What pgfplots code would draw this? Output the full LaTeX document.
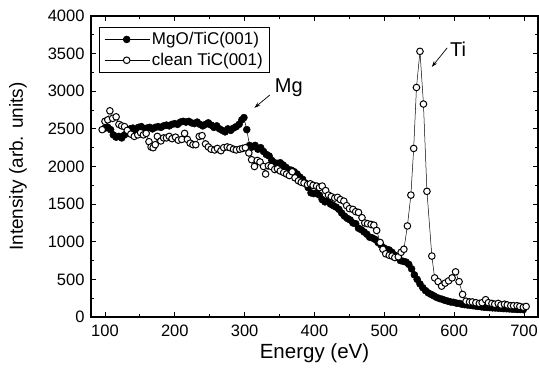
\documentclass[border=0pt]{standalone}
\usepackage{pgfplots}
\pgfplotsset{compat=1.18}
\usepackage{fontspec}
\setmainfont{Liberation Sans}
\usetikzlibrary{arrows.meta,calc}
\begin{document}
\begin{tikzpicture}
\begin{axis}[
  scale only axis, width=447pt, height=301pt,
  xmin=80, xmax=720, ymin=0, ymax=4000,
  xtick={100,200,...,700}, minor x tick num=1,
  ytick={0,500,...,4000}, minor y tick num=1,
  tick align=inside, major tick length=5pt, minor tick length=3pt,
  axis line style={line width=1.1pt}, every tick/.style={line width=0.9pt, black},
  tick label style={font=\fontsize{16.5}{16}\selectfont},
  /pgf/number format/assume math mode=true,
  /pgf/number format/1000 sep={},
  xticklabel style={yshift=-4pt}, yticklabel style={xshift=-3pt},
  xlabel={Energy (eV)}, ylabel={Intensity (arb. units)},
  xlabel style={font=\fontsize{20.5}{20}\selectfont, at={(axis description cs:0.5,0)}, anchor=center, yshift=-36pt},
  ylabel style={font=\fontsize{19}{19}\selectfont, at={(axis description cs:0,0.5)}, anchor=center, yshift=73pt},
  legend style={font=\fontsize{17}{20}\selectfont, at={(0.018,0.963)}, anchor=north west, draw=black, line width=0.8pt, inner xsep=5pt, inner ysep=3pt, row sep=3pt},
  legend cell align=left,
  legend image code/.code={\draw[mark repeat=2,mark phase=2,#1] plot coordinates {(0pt,0pt) (22pt,0pt) (45pt,0pt)};},
]
\addplot[black, line width=0.5pt, mark=*, mark size=3.5pt, mark options={fill=black, line width=0.5pt}] coordinates {
(100,2510)(104,2520)(108,2490)(112,2420)(116,2390)(120,2400)(124,2380)(128,2420)(132,2460)(136,2500)
(140,2510)(144,2480)(148,2520)(152,2530)(156,2500)(160,2510)(164,2520)(168,2500)(172,2520)(176,2530)
(180,2520)(184,2540)(188,2550)(192,2540)(196,2560)(200,2570)(204,2560)(208,2590)(212,2600)(216,2590)
(220,2600)(224,2580)(228,2570)(232,2590)(236,2560)(240,2540)(244,2560)(248,2580)(252,2550)(256,2520)
(260,2540)(264,2500)(268,2480)(272,2460)(276,2500)(280,2480)(284,2510)(288,2530)(292,2560)(296,2620)
(299,2650)(303,2490)(307,2280)(311,2260)(315,2280)(319,2230)(323,2250)(327,2200)(331,2160)(335,2140)
(339,2080)(343,2050)(347,2040)(351,2050)(355,2020)(359,1990)(363,1960)(367,1950)(371,1930)(375,1900)
(379,1860)(383,1830)(387,1780)(391,1720)(395,1650)(399,1640)(403,1650)(407,1620)(411,1560)(415,1530)
(419,1540)(423,1500)(427,1480)(431,1460)(435,1430)(439,1380)(443,1340)(447,1310)(451,1290)(455,1250)
(459,1240)(463,1180)(467,1160)(471,1130)(475,1100)(479,1060)(483,1050)(487,1030)(491,990)(495,960)
(499,920)(503,900)(507,890)(511,860)(515,820)(519,790)(523,750)(527,740)(531,730)(535,700)
(539,640)(543,560)(547,500)(551,440)(555,390)(559,350)(563,320)(567,300)(571,280)(575,260)
(579,245)(583,235)(587,220)(591,210)(595,200)(599,195)(603,185)(607,180)(611,170)(615,165)
(619,160)(623,155)(627,150)(631,145)(635,140)(639,135)(643,130)(647,128)(651,125)(655,122)
(659,120)(663,118)(667,115)(671,112)(675,110)(679,108)(683,105)(687,103)(691,100)(695,100)(699,98)
};
\addlegendentry{MgO/TiC(001)}
\addplot[black, line width=0.5pt, mark=*, mark size=3.3pt, mark options={fill=white, draw=black, line width=1pt}] coordinates {
(96,2490)(100,2600)(104,2620)(107,2740)(111,2640)(116,2660)(120,2560)(124,2540)(128,2530)(132,2480)
(137,2430)(142,2400)(147,2420)(151,2450)(155,2420)(159,2440)(163,2330)(166,2260)(169,2250)(172,2290)
(175,2400)(180,2340)(184,2380)(188,2380)(192,2400)(196,2370)(201,2390)(205,2350)(210,2360)(214,2440)
(218,2360)(222,2310)(226,2290)(230,2290)(235,2400)(239,2410)(244,2300)(248,2260)(252,2230)(257,2220)
(261,2240)(266,2210)(270,2250)(275,2260)(279,2250)(284,2230)(288,2220)(293,2230)(297,2240)(301,2250)
(306,2180)(310,2090)(314,2000)(318,2080)(322,2060)(327,2000)(330,1900)(334,2010)(338,2000)(343,1960)
(347,1970)(351,1940)(356,1920)(360,1900)(364,1880)(368,1930)(372,1850)(377,1810)(381,1790)(385,1780)
(390,1760)(394,1770)(398,1750)(403,1740)(407,1720)(411,1740)(416,1680)(420,1620)(424,1600)(429,1580)
(433,1590)(437,1560)(442,1540)(446,1480)(450,1440)(455,1430)(459,1400)(463,1390)(468,1320)(472,1250)
(476,1240)(481,1230)(485,1220)(489,1150)(494,990)(498,900)(502,840)(507,820)(511,810)(515,790)
(520,800)(524,860)(528,900)(533,1210)(538,1620)(542,2240)(546,3050)(551,3530)(556,2830)(561,1670)
(568,810)(572,520)(577,470)(582,410)(587,450)(592,480)(597,520)(602,600)(607,470)(612,300)
(617,210)(622,200)(626,200)(631,190)(636,180)(640,190)(645,230)(649,190)(654,180)(658,170)
(663,180)(667,160)(672,170)(676,160)(681,150)(685,150)(690,150)(694,140)(699,130)(703,140)
};
\addlegendentry{clean TiC(001)}
\draw[line width=0.7pt, -{Stealth[length=6pt,width=4pt]}] (axis cs:336,2950) -- (axis cs:314,2780);
\node[anchor=west, font=\fontsize{20}{20}\selectfont, inner sep=0pt] at (axis cs:343,3045) {Mg};
\draw[line width=0.7pt, -{Stealth[length=6pt,width=4pt]}] (axis cs:590,3577) -- (axis cs:568,3324);
\node[anchor=west, font=\fontsize{20}{20}\selectfont, inner sep=0pt] at (axis cs:594,3560) {Ti};
\end{axis}
\pgfresetboundingbox
\path ($(current axis.south west)+(-91pt,-52pt)$) rectangle ($(current axis.north east)+(1pt,16pt)$);
\end{tikzpicture}
\end{document}
